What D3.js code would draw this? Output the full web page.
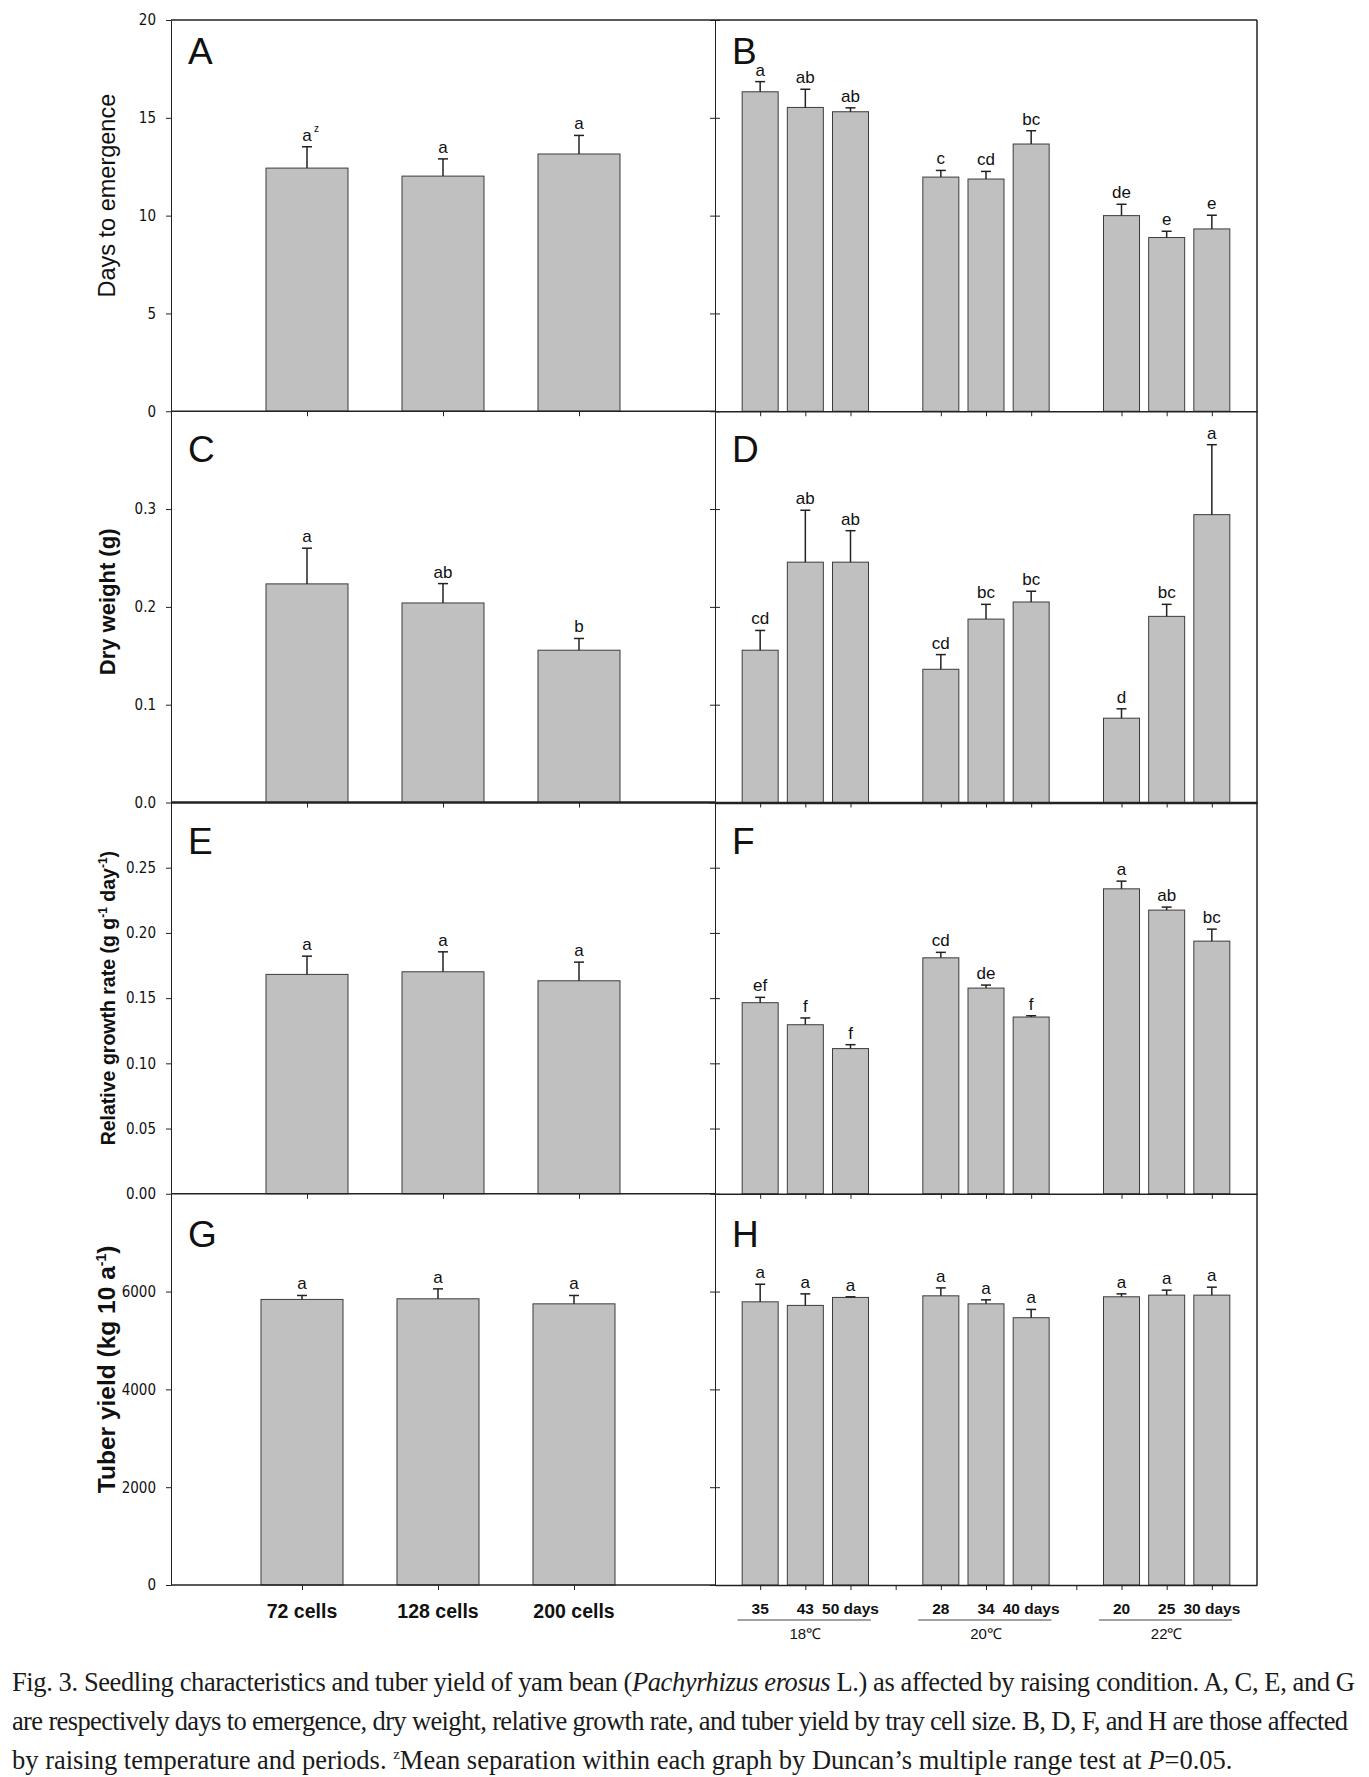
<!DOCTYPE html>
<html>
<head>
<meta charset="utf-8">
<script src="https://cdn.jsdelivr.net/npm/d3@7"></script>
<style>
    body { margin: 0; background: #fff; }
    svg text { font-family: "Liberation Sans", Arial, sans-serif; fill: #111; }
    .tick text { font-family: "Liberation Sans Narrow", "Arial Narrow", "DejaVu Sans Condensed", sans-serif; font-size: 15px; }
    .caption text { font-family: "Liberation Serif", "Times New Roman", serif; fill: #1a1a1a; }
</style>
</head>
<body>
<svg id="chart" width="1369" height="1777"></svg>
<script>
// tick / category labels
const cellLabels = ["72 cells", "128 cells", "200 cells"];
const dayLabels = ["35", "43", "50 days", "28", "34", "40 days", "20", "25", "30 days"];
const tempLabels = ["18\u2103", "20\u2103", "22\u2103"];

// A, B: days to emergence
const emergCell = [12.43, 12.02, 13.15];
const emergCellErr = [1.09, 0.88, 0.95];
const emergCellSig = ["a", "a", "a"];
const emergTemp = [16.33, 15.53, 15.31, 11.97, 11.87, 13.66, 10.0, 8.88, 9.32];
const emergTempErr = [0.52, 0.93, 0.2, 0.34, 0.39, 0.68, 0.58, 0.32, 0.7];
const emergTempSig = ["a", "ab", "ab", "c", "cd", "bc", "de", "e", "e"];

// C, D: dry weight
const dryCell = [0.2235, 0.204, 0.1557];
const dryCellErr = [0.0365, 0.0198, 0.012];
const dryCellSig = ["a", "ab", "b"];
const dryTemp = [0.1557, 0.2457, 0.2457, 0.1362, 0.1875, 0.205, 0.0862, 0.1903, 0.2943];
const dryTempErr = [0.0202, 0.0531, 0.0322, 0.015, 0.0151, 0.011, 0.0096, 0.0123, 0.0715];
const dryTempSig = ["cd", "ab", "ab", "cd", "bc", "bc", "d", "bc", "a"];

// E, F: relative growth rate
const rgrCell = [0.1682, 0.1702, 0.1633];
const rgrCellErr = [0.014, 0.0153, 0.0143];
const rgrCellSig = ["a", "a", "a"];
const rgrTemp = [0.1465, 0.1296, 0.1113, 0.1809, 0.1577, 0.1355, 0.2338, 0.2175, 0.1937];
const rgrTempErr = [0.0041, 0.0052, 0.003, 0.0042, 0.0023, 0.001, 0.0059, 0.0023, 0.0092];
const rgrTempSig = ["ef", "f", "f", "cd", "de", "f", "a", "ab", "bc"];

// G, H: tuber yield
const yieldCell = [5839, 5852, 5749];
const yieldCellErr = [81, 203, 171];
const yieldCellSig = ["a", "a", "a"];
const yieldTemp = [5790, 5717, 5880, 5913, 5749, 5465, 5893, 5927, 5927];
const yieldTempErr = [360, 236, 13, 162, 82, 170, 60, 102, 163];
const yieldTempSig = ["a", "a", "a", "a", "a", "a", "a", "a", "a"];

const left = 171, mid = 715, right = 1257;
const top0 = 20, rowH = 391.25;

const svg = d3.select("#chart");

const rows = [
    {title: "Days to emergence", weight: "normal", size: 23.5, domain: [0, 20], ticks: [0, 5, 10, 15, 20], fmt: d3.format("d"),
        L: ["A", emergCell, emergCellErr, emergCellSig], R: ["B", emergTemp, emergTempErr, emergTempSig], titleShift: -20, letterY: 44, shift: 0},
    {title: "Dry weight (g)", weight: "bold", size: 22, domain: [0, 0.4], ticks: [0, 0.1, 0.2, 0.3], fmt: d3.format(".1f"),
        L: ["C", dryCell, dryCellErr, dryCellSig], R: ["D", dryTemp, dryTempErr, dryTempSig], titleShift: -5, letterY: 51, shift: 0, thick: true},
    {title: "Relative growth rate (g g", weight: "bold", size: 19.5, domain: [0, 0.3], ticks: [0, 0.05, 0.1, 0.15, 0.2, 0.25], fmt: d3.format(".2f"),
        L: ["E", rgrCell, rgrCellErr, rgrCellSig], R: ["F", rgrTemp, rgrTempErr, rgrTempSig], titleShift: 0, letterY: 51, shift: 0},
    {title: "Tuber yield (kg 10 a", weight: "bold", size: 24.5, domain: [0, 8000], ticks: [0, 2000, 4000, 6000], fmt: d3.format("d"),
        L: ["G", yieldCell, yieldCellErr, yieldCellSig], R: ["H", yieldTemp, yieldTempErr, yieldTempSig], titleShift: -20, letterY: 53, shift: -5}
];

const xR = d3.scaleLinear().domain([0, 12]).range([mid, right]);
const posL = i => i + 1;
const posR = i => Math.floor(i / 3) * 4 + (i % 3) + 1;

function drawBars(g, x, y, pos, vals, errs, sigs, bw, star) {
    const d = vals.map((v, i) => ({v, e: errs[i], s: sigs[i], p: pos(i)}));
    g.selectAll("rect.bar").data(d).join("rect")
        .attr("x", k => x(k.p) - bw / 2)
        .attr("y", k => y(k.v))
        .attr("width", bw)
        .attr("height", k => y(0) - y(k.v))
        .attr("fill", "#c0c0c0")
        .attr("stroke", "#3c3c3c")
        .attr("stroke-width", 1);
    g.selectAll("line.err").data(d).join("line")
        .attr("x1", k => x(k.p)).attr("x2", k => x(k.p))
        .attr("y1", k => y(k.v)).attr("y2", k => y(k.v + k.e))
        .attr("stroke", "#222").attr("stroke-width", 1.5);
    g.selectAll("line.cap").data(d).join("line")
        .attr("x1", k => x(k.p) - 5).attr("x2", k => x(k.p) + 5)
        .attr("y1", k => y(k.v + k.e)).attr("y2", k => y(k.v + k.e))
        .attr("stroke", "#222").attr("stroke-width", 1.5);
    g.selectAll("text.sig").data(d).join("text")
        .attr("x", k => x(k.p))
        .attr("y", k => y(k.v + k.e) - 6)
        .attr("text-anchor", "middle")
        .attr("font-size", 17)
        .text(k => k.s);
    if (star) {
        g.append("text")
            .attr("x", x(d[0].p) + 7)
            .attr("y", y(d[0].v + d[0].e) - 15)
            .attr("font-size", 10)
            .text("z");
    }
}

let xG;
rows.forEach((r, ri) => {
    const top = top0 + ri * rowH;
    const y = d3.scaleLinear().domain(r.domain).range([top + rowH, top]);
    const xL = d3.scaleLinear().domain([0, 4]).range([left + r.shift, mid + r.shift]);
    xG = xL;
    const g = svg.append("g");

    drawBars(g.append("g"), xL, y, posL, r.L[1], r.L[2], r.L[3], 82, ri === 0);
    drawBars(g.append("g"), xR, y, posR, r.R[1], r.R[2], r.R[3], 36, false);

    g.append("g")
        .attr("transform", `translate(${left},0)`)
        .call(d3.axisLeft(y).tickValues(r.ticks).tickFormat(r.fmt).tickSize(5).tickPadding(10).tickSizeOuter(0))
        .call(a => a.selectAll("path,line").attr("stroke", "#222"))
        .call(a => a.selectAll("text").attr("fill", "#222"));

    // middle axis with crossing ticks
    g.append("g")
        .attr("transform", `translate(${mid},0)`)
        .call(d3.axisLeft(y).tickValues(r.ticks).tickFormat("").tickSize(5).tickSizeOuter(0))
        .call(a => a.selectAll("path,line").attr("stroke", "#222"));
    g.append("g")
        .attr("transform", `translate(${mid},0)`)
        .call(d3.axisRight(y).tickValues(r.ticks).tickFormat("").tickSize(5).tickSizeOuter(0))
        .call(a => a.select(".domain").remove())
        .call(a => a.selectAll("line").attr("stroke", "#222"));

    // bottom axes
    const sw = r.thick ? 2.5 : 1.5;
    g.append("g")
        .attr("transform", `translate(0,${y(0)})`)
        .call(d3.axisBottom(xL).tickValues(r.L[1].map((v, i) => posL(i))).tickFormat("").tickSize(5).tickSizeOuter(0))
        .call(a => a.selectAll("line").attr("stroke", "#222"))
        .call(a => a.select(".domain").attr("stroke", "#222").attr("stroke-width", sw)
            .attr("d", `M${left},0H${mid}`));
    const rTicks = ri === 3 ? d3.range(1, 12) : r.R[1].map((v, i) => posR(i));
    g.append("g")
        .attr("transform", `translate(0,${y(0)})`)
        .call(d3.axisBottom(xR).tickValues(rTicks).tickFormat("").tickSize(5).tickSizeOuter(0))
        .call(a => a.selectAll("line").attr("stroke", "#222"))
        .call(a => a.select(".domain").attr("stroke", "#222").attr("stroke-width", sw));

    // panel letters
    g.append("text").attr("x", left + 17).attr("y", top + r.letterY).attr("font-size", 37).text(r.L[0]);
    g.append("text").attr("x", mid + 17).attr("y", top + r.letterY).attr("font-size", 37).text(r.R[0]);

    // y title
    const t = g.append("text")
        .attr("transform", `translate(115,${top + rowH / 2 + r.titleShift}) rotate(-90)`)
        .attr("text-anchor", "middle")
        .attr("font-size", r.size)
        .attr("font-weight", r.weight)
        .text(r.title);
    if (ri === 2) {
        t.append("tspan").attr("font-size", 12).attr("dy", -8).text("-1");
        t.append("tspan").attr("dy", 8).text(" day");
        t.append("tspan").attr("font-size", 12).attr("dy", -8).text("-1");
        t.append("tspan").attr("dy", 8).text(")");
    }
    if (ri === 3) {
        t.append("tspan").attr("font-size", 14).attr("dy", -9).text("-1");
        t.append("tspan").attr("dy", 9).text(")");
    }
});

// frame
const bottom = top0 + 4 * rowH;
svg.append("line").attr("x1", left).attr("x2", right).attr("y1", top0).attr("y2", top0).attr("stroke", "#222").attr("stroke-width", 1.5);
svg.append("line").attr("x1", right).attr("x2", right).attr("y1", top0).attr("y2", bottom).attr("stroke", "#222").attr("stroke-width", 1.5);

// x labels, left column
svg.append("g").selectAll("text").data(cellLabels).join("text")
    .attr("x", (d, i) => xG(posL(i)))
    .attr("y", bottom + 33)
    .attr("text-anchor", "middle")
    .attr("font-size", 19.5)
    .attr("font-weight", "bold")
    .text(d => d);

// x labels, right column
svg.append("g").selectAll("text").data(dayLabels).join("text")
    .attr("x", (d, i) => xR(posR(i)))
    .attr("y", bottom + 29)
    .attr("text-anchor", "middle")
    .attr("font-size", 15.5)
    .attr("font-weight", "bold")
    .text(d => d);

svg.append("g").selectAll("line").data(tempLabels).join("line")
    .attr("x1", (d, i) => xR(i * 4 + 0.5))
    .attr("x2", (d, i) => xR(i * 4 + 3.45))
    .attr("y1", bottom + 35).attr("y2", bottom + 35)
    .attr("stroke", "#444").attr("stroke-width", 1);

svg.append("g").selectAll("text").data(tempLabels).join("text")
    .attr("x", (d, i) => xR(i * 4 + 2))
    .attr("y", bottom + 54)
    .attr("text-anchor", "middle")
    .attr("font-size", 15)
    .text(d => d);

// caption
const cap = svg.append("g").attr("class", "caption");
const c1 = cap.append("text").attr("x", 12).attr("y", 1691).attr("font-size", 26.5)
    .attr("textLength", 1343).attr("lengthAdjust", "spacing");
c1.append("tspan").text("Fig. 3. Seedling characteristics and tuber yield of yam bean (");
c1.append("tspan").attr("font-style", "italic").text("Pachyrhizus erosus");
c1.append("tspan").text(" L.) as affected by raising condition. A, C, E, and G");

cap.append("text").attr("x", 12).attr("y", 1730).attr("font-size", 26.5)
    .attr("textLength", 1336).attr("lengthAdjust", "spacing")
    .text("are respectively days to emergence, dry weight, relative growth rate, and tuber yield by tray cell size. B, D, F, and H are those affected");

const c3 = cap.append("text").attr("x", 12).attr("y", 1769).attr("font-size", 26.5);
c3.append("tspan").text("by raising temperature and periods. ");
c3.append("tspan").attr("font-size", 15).attr("dy", -10).text("z");
c3.append("tspan").attr("dy", 10).text("Mean separation within each graph by Duncan\u2019s multiple range test at ");
c3.append("tspan").attr("font-style", "italic").text("P");
c3.append("tspan").text("=0.05.");
</script>
</body>
</html>
